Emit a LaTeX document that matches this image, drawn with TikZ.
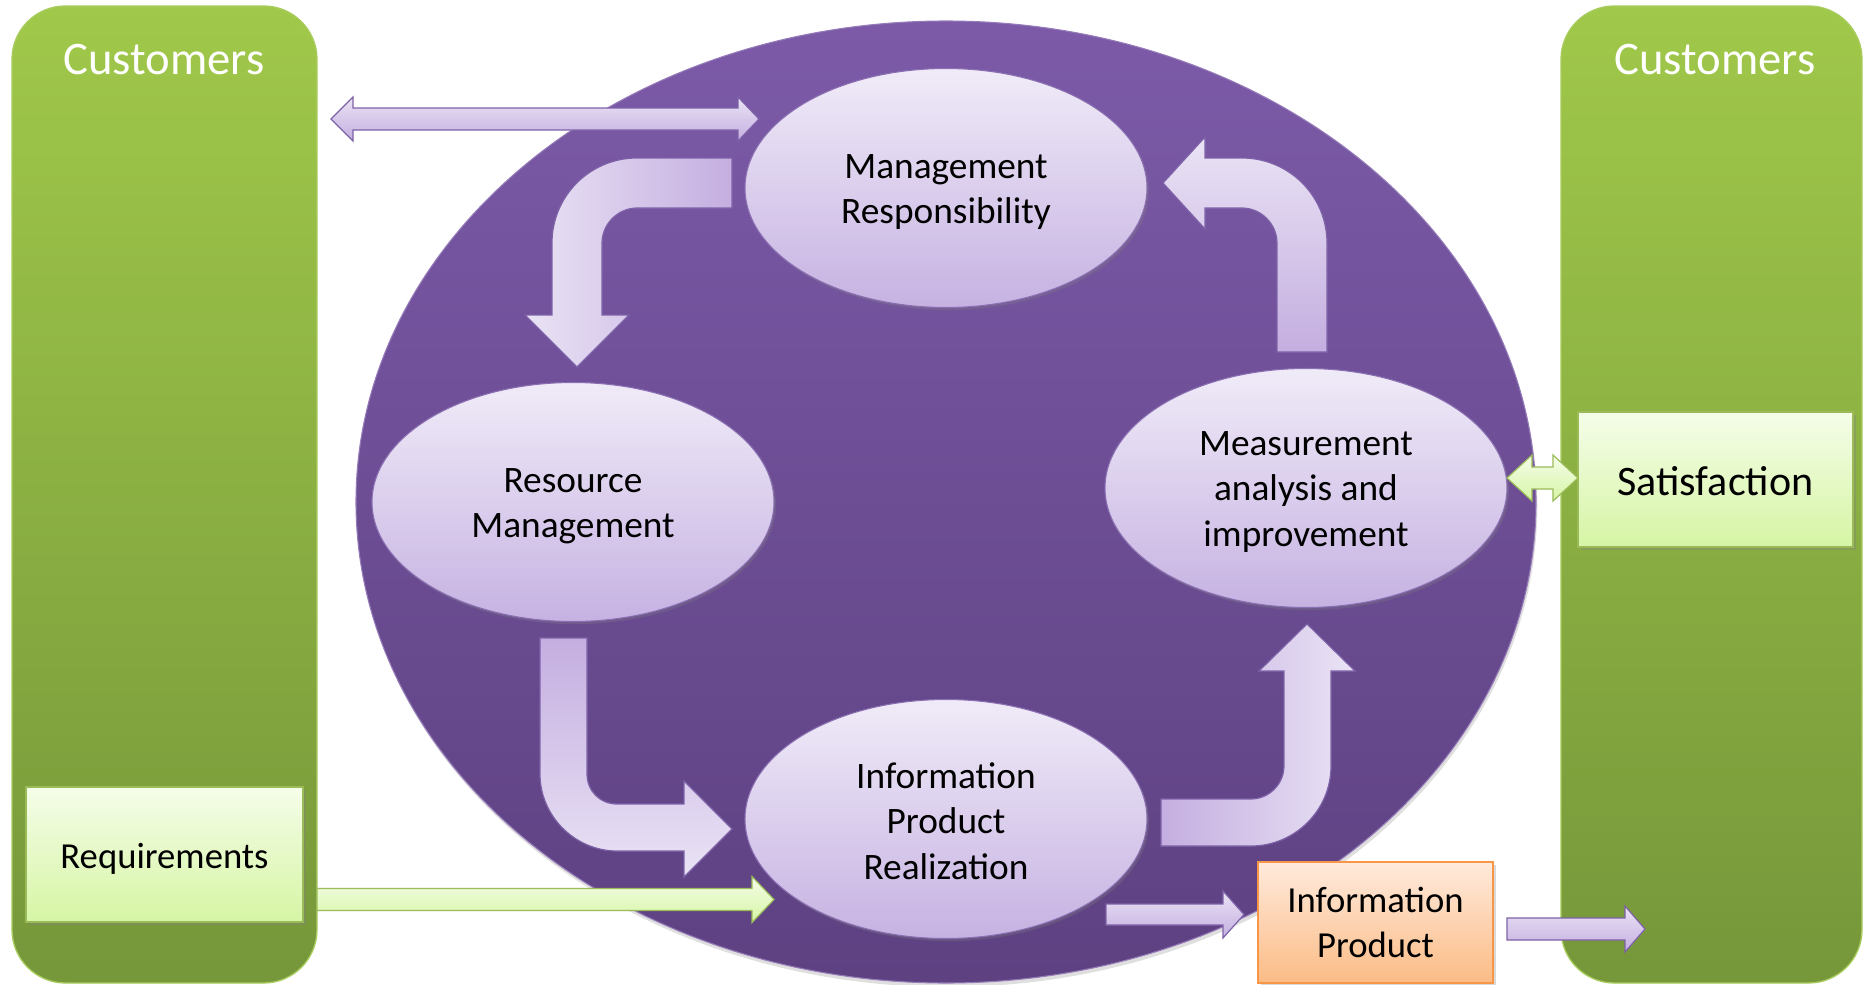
\documentclass[tikz,border=0pt]{standalone}
\usepackage{fontspec}
\setmainfont{Carlito}
\usetikzlibrary{shapes.geometric,shadows}
\definecolor{bigtop}{HTML}{7C5AA8}
\definecolor{bigbot}{HTML}{5D4181}
\definecolor{elltop}{HTML}{F0EBF8}
\definecolor{ellbot}{HTML}{C6B2E2}
\definecolor{ellline}{HTML}{8A6FB2}
\definecolor{arrlight}{HTML}{EAE3F5}
\definecolor{arrdark}{HTML}{C4AEE0}
\definecolor{arrline}{HTML}{7E62A8}
\definecolor{pantop}{HTML}{A0C84A}
\definecolor{panbot}{HTML}{76973A}
\definecolor{panline}{HTML}{A8CC5E}
\definecolor{gboxtop}{HTML}{F5FDE9}
\definecolor{gboxbot}{HTML}{D6F5A4}
\definecolor{gboxline}{HTML}{9BBB59}
\definecolor{oboxtop}{HTML}{FFEADC}
\definecolor{oboxbot}{HTML}{FBBC86}
\definecolor{oboxline}{HTML}{F79646}
\newcommand\arrR[7][]{\path[#1] (#2,#5-#6) -- (#3,#5-#6) -- (#3,#5-#7) -- (#4,#5) -- (#3,#5+#7) -- (#3,#5+#6) -- (#2,#5+#6) -- cycle;}
\newcommand\arrLR[8][]{\path[#1] (#2,#6) -- (#3,#6-#8) -- (#3,#6-#7) -- (#4,#6-#7) -- (#4,#6-#8) -- (#5,#6) -- (#4,#6+#8) -- (#4,#6+#7) -- (#3,#6+#7) -- (#3,#6+#8) -- cycle;}
\begin{document}
\begin{tikzpicture}[x=0.75pt,y=-0.75pt,
  panel/.style={rectangle, rounded corners=40pt, draw=panline, line width=1pt,
    top color=pantop, bottom color=panbot, inner sep=0pt},
  bigell/.style={ellipse, inner sep=0pt, top color=bigtop, bottom color=bigbot,
    draw=bigtop!80!white, line width=0.8pt,
    drop shadow={opacity=0.25, shadow xshift=1pt, shadow yshift=-3pt}},
  procell/.style={ellipse, inner sep=0pt, minimum width=301.5pt, minimum height=179.25pt,
    top color=elltop, bottom color=ellbot, draw=ellline, line width=0.8pt,
    drop shadow={opacity=0.3, shadow xshift=1.5pt, shadow yshift=-2pt}},
  proctext/.style={align=center, inner sep=0pt, font=\fontsize{28pt}{34pt}\selectfont},
  greenbox/.style={rectangle, inner sep=0pt, top color=gboxtop, bottom color=gboxbot,
    draw=gboxline, line width=1.2pt, align=center,
    drop shadow={opacity=0.35, shadow xshift=2pt, shadow yshift=-2pt}},
  orangebox/.style={rectangle, inner sep=0pt, top color=oboxtop, bottom color=oboxbot,
    draw=oboxline, line width=1.2pt, align=center,
    font=\fontsize{27.5pt}{34pt}\selectfont,
    drop shadow={opacity=0.3, shadow xshift=2pt, shadow yshift=-2pt}},
  parrow/.style={top color=arrlight, bottom color=arrdark, draw=arrline, line width=0.9pt},
  garrow/.style={top color=gboxtop, bottom color=gboxbot, draw=gboxline, line width=0.9pt},
  lbl/.style={text=white, font=\fontsize{35pt}{40pt}\selectfont}
]
\useasboundingbox (0,0) rectangle (1864,985);
\clip (0,0) rectangle (1864,985);

% customer panels
\node[panel, minimum width=228.75pt, minimum height=732.75pt] (custL) at (164.5,494.5) {};
\node[panel, minimum width=225.75pt, minimum height=732.75pt] (custR) at (1711.5,494.5) {};
\node[lbl] (custLt) at (164,60) {Customers};
\node[lbl] (custRt) at (1715,60) {Customers};

% big circle
\node[bigell, minimum width=885pt, minimum height=721.5pt] (big) at (946,502) {};

% bent arrows
\path[left color=arrlight, right color=arrdark, draw=arrline, line width=0.9pt]
  (732,158) -- (637,158) .. controls (590,158) and (552,196) .. (552,243)
  -- (552,315) -- (525,315) -- (577,367) -- (629,315) -- (602,315) -- (602,243)
  .. controls (602,224) and (618,208) .. (637,208) -- (732,208) -- cycle;
\path[top color=arrdark, bottom color=arrlight, draw=arrline, line width=0.9pt]
  (540,638) -- (540,774) .. controls (540,816) and (575,851) .. (617,851)
  -- (684,851) -- (684,877) -- (732,829) -- (684,781) -- (684,804) -- (617,804)
  .. controls (600,804) and (587,791) .. (587,774) -- (587,638) -- cycle;
\path[left color=arrdark, right color=arrlight, draw=arrline, line width=0.9pt]
  (1161,799) -- (1251,799) .. controls (1269,799) and (1284,784) .. (1284,766)
  -- (1284,671) -- (1259,671) -- (1307,624) -- (1355,671) -- (1331,671) -- (1331,766)
  .. controls (1331,810) and (1295,846) .. (1251,846) -- (1161,846) -- cycle;
\path[top color=arrlight, bottom color=arrdark, draw=arrline, line width=0.9pt]
  (1277,352) -- (1277,243) .. controls (1277,224) and (1261,208) .. (1242,208)
  -- (1205,208) -- (1205,229) -- (1163,183) -- (1205,137) -- (1205,158) -- (1242,158)
  .. controls (1289,158) and (1327,196) .. (1327,243) -- (1327,352) -- cycle;

% process ellipses
\node[procell] (mgmt) at (946,188) {};
\node[procell] (res) at (573,502) {};
\node[procell] (meas) at (1306,488) {};
\node[procell] (ipr) at (946,819) {};
\node[proctext] (mgmtT) at ([yshift=-3pt]mgmt.center) {Management\\Responsibility};
\node[proctext] (resT) at ([yshift=-3pt]res.center) {Resource\\Management};
\node[proctext] (measT) at ([yshift=-3pt]meas.center) {Measurement\\analysis and\\improvement};
\node[proctext] (iprT) at ([yshift=-1.5pt]ipr.center) {Information\\Product\\Realization};

% boxes
\node[greenbox, minimum width=207.75pt, minimum height=101.25pt,
  font=\fontsize{27.5pt}{34pt}\selectfont] (req) at (164.5,854.5) {\raisebox{-3pt}[\height][\depth]{Requirements}};
\node[greenbox, minimum width=206.25pt, minimum height=101.25pt,
  font=\fontsize{31.5pt}{38pt}\selectfont] (sat) at (1715.5,479.5) {\raisebox{-1pt}[\height][\depth]{Satisfaction}};
\node[orangebox, minimum width=176.25pt, minimum height=90.75pt] (ip) at (1375.5,922.5) {Information\\Product};

% straight arrows
\coordinate (dblL) at (331,119);
\coordinate (dblR) at (759,119);
\arrLR[parrow]{331}{353}{738}{759}{119}{11}{22}
\arrR[garrow]{317}{752}{774}{899.5}{11}{23}
\arrR[parrow]{1106}{1223}{1244}{914.5}{10.5}{23.5}
\arrR[parrow]{1507}{1625}{1645}{929}{11}{23}
\arrLR[garrow]{1507}{1532}{1553}{1578}{478}{11}{23}
\end{tikzpicture}
\end{document}
